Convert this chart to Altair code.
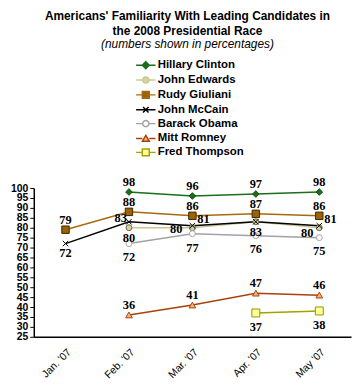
import altair as alt
import pandas as pd

months = ["Jan. '07", "Feb. '07", "Mar. '07", "Apr. '07", "May '07"]
series = ["Hillary Clinton", "John Edwards", "Rudy Giuliani", "John McCain",
          "Barack Obama", "Mitt Romney", "Fred Thompson"]

clinton = [None, 98, 96, 97, 98]
edwards = [None, 80, 80, 83, 80]
giuliani = [79, 88, 86, 87, 86]
mccain = [72, 83, 81, 83, 81]
obama = [None, 72, 77, 76, 75]
romney = [None, 36, 41, 47, 46]
thompson = [None, None, None, 37, 38]

# label placement per point (style only)
clinton_lab = [None, "above", "above", "above", "above"]
edwards_lab = [None, "below", "left", "below", "left_low"]
giuliani_lab = ["above", "above", "above", "above", "above"]
mccain_lab = ["below", "left_up", "right_up", None, "right_up"]
obama_lab = [None, "below_far", "below_far", "below_far", "below_far"]
romney_lab = [None, "above", "above", "above", "above"]
thompson_lab = [None, None, None, "below_far", "below_far"]

values = [clinton, edwards, giuliani, mccain, obama, romney, thompson]
labs = [clinton_lab, edwards_lab, giuliani_lab, mccain_lab, obama_lab, romney_lab, thompson_lab]

line_colors = ["#1b6e1b", "#c9c894", "#a66a0e", "#000000", "#a3a3a3", "#a8420c", "#a3a300"]
marker_fill = ["#1b6e1b", "#d8d0a2", "#9c6206", "#000000", "#ffffff", "#f6b47a", "#ffff99"]
marker_stroke = ["#0f4f0f", "#6e6a48", "#3a2800", "#000000", "#a3a3a3", "#a8420c", "#939300"]
xpath = "M-1,-1L1,1M-1,1L1,-1"
marker_shape = ["diamond", "circle", "square", xpath, "circle", "triangle-up", "square"]
marker_size = [45, 36, 56, 30, 36, 45, 64]

# legend symbols: line + marker
seg = "M-1.4,0H-0.5M0.5,0H1.4"
circ = "M-0.45,0A0.45,0.45 0 1,0 0.45,0A0.45,0.45 0 1,0 -0.45,0Z"
legend_paths = [
    "M-1.4,0H1.4M0,-0.5L0.5,0L0,0.5L-0.5,0Z",
    seg + circ,
    seg + "M-0.5,-0.5H0.5V0.5H-0.5Z",
    "M-1.4,0H1.4M-0.4,-0.4L0.4,0.4M-0.4,0.4L0.4,-0.4",
    seg + circ,
    seg + "M-0.5,0.4L0,-0.45L0.5,0.4Z",
    seg + "M-0.5,-0.5H0.5V0.5H-0.5Z",
]

rows = []
for i, s in enumerate(series):
    for j, m in enumerate(months):
        v = values[i][j]
        if v is None:
            continue
        rows.append({
            "series": s, "month": m, "value": v, "order": i,
            "lab": labs[i][j] or "none",
            "lc": line_colors[i], "mf": marker_fill[i], "ms": marker_stroke[i],
            "shape": marker_shape[i], "size": marker_size[i],
        })
df = pd.DataFrame(rows)

x_enc = alt.X("month:N", scale=alt.Scale(domain=months, padding=0.5),
              axis=alt.Axis(title=None, labelAngle=-45, labelAlign="right", labelBaseline="top",
                            labelFont="Liberation Sans", labelFontSize=10.5, labelColor="black",
                            labelPadding=10, ticks=False, domainColor="black", domainWidth=1.5))
y_enc = alt.Y("value:Q", scale=alt.Scale(domain=[25, 100], nice=False, zero=False),
              axis=alt.Axis(title=None, values=list(range(25, 101, 5)), grid=False,
                            labelFont="Liberation Sans", labelFontSize=10.5, labelFontWeight="bold",
                            labelColor="black", labelPadding=2, tickSize=4, tickColor="black",
                            domainColor="black", domainWidth=1.5, labelOverlap=False))

base = alt.Chart(df)

lines = base.mark_line(strokeWidth=1.5).encode(
    x=x_enc, y=y_enc,
    stroke=alt.Stroke("lc:N", scale=None),
    detail="series:N",
)

points = base.mark_point(filled=True, opacity=1, strokeWidth=1).encode(
    x=x_enc, y=y_enc,
    fill=alt.Fill("mf:N", scale=None),
    stroke=alt.Stroke("ms:N", scale=None),
    shape=alt.Shape("shape:N", scale=None),
    size=alt.Size("size:Q", scale=None),
    order="order:Q",
)

legend_layer = base.transform_filter("false").mark_point(filled=True, opacity=1, size=196).encode(
    x=x_enc, y=y_enc,
    shape=alt.Shape("series:N", scale=alt.Scale(domain=series, range=legend_paths),
                    legend=alt.Legend(title=None, orient="none", legendX=105, legendY=-132,
                                      direction="vertical", labelFont="Liberation Sans",
                                      labelFontSize=11.5, labelFontWeight="bold", labelColor="black",
                                      symbolSize=196, symbolStrokeWidth=1.5, rowPadding=-2,
                                      labelOffset=4, padding=0, labelLimit=300)),
    fill=alt.Fill("series:N", scale=alt.Scale(domain=series, range=marker_fill)),
    stroke=alt.Stroke("series:N", scale=alt.Scale(domain=series, range=line_colors)),
)

offsets = {
    "above": (0, -10, "center"),
    "below": (0, 10, "center"),
    "below_far": (0, 14, "center"),
    "left": (-10, 1, "right"),
    "left_low": (-6, 5, "right"),
    "left_up": (-2, -4, "right"),
    "right_up": (5, -7, "left"),
}

label_layers = []
for code, (dx, dy, align) in offsets.items():
    label_layers.append(
        base.transform_filter(alt.datum.lab == code).mark_text(
            dx=dx, dy=dy, align=align, baseline="middle", font="Liberation Serif",
            fontSize=12.5, fontWeight="bold", color="black"
        ).encode(x=x_enc, y=y_enc, text="value:Q")
    )

chart = alt.layer(lines, points, legend_layer, *label_layers).resolve_scale(
    shape="independent", fill="independent", stroke="independent"
).properties(
    width=320, height=150,
    padding={"left": 2, "top": 0, "right": 2, "bottom": 0},
    title=alt.Title(
        text=["Americans' Familiarity With Leading Candidates in", "the 2008 Presidential Race"],
        subtitle="(numbers shown in percentages)",
        font="Liberation Sans", fontSize=12, fontWeight="bold", color="black",
        subtitleFont="Liberation Sans", subtitleFontSize=12, subtitleFontStyle="italic",
        subtitleColor="black", anchor="middle", frame="group", offset=6,
        lineHeight=16, subtitlePadding=1, dx=-5,
    ),
).configure_view(stroke=None)

chart.save("out.html", embed_options={"renderer": "svg", "actions": False})
